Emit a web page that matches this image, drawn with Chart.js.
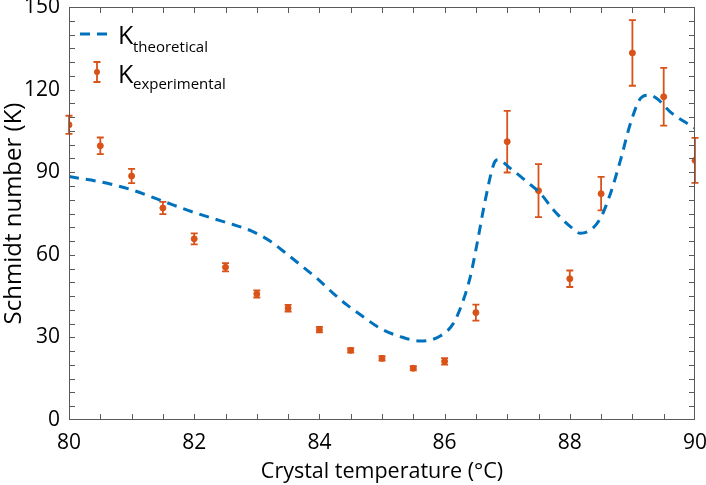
<!DOCTYPE html>
<html>
<head>
<meta charset="utf-8">
<script src="https://cdn.jsdelivr.net/npm/chart.js@4.4.0/dist/chart.umd.min.js"></script>
<style>
  html, body { margin: 0; padding: 0; background: #fff; }
  #wrap { width: 706px; height: 485px; position: relative; }
</style>
</head>
<body>
<div id="wrap"><canvas id="myChart"></canvas></div>
<script>
// measured values
var expX = [80, 80.5, 81, 81.5, 82, 82.5, 83, 83.5, 84, 84.5, 85, 85.5, 86, 86.5, 87, 87.5, 88, 88.5, 89, 89.5, 90];
var expY = [107.2, 99.6, 88.6, 77.0, 65.8, 55.5, 45.8, 40.6, 32.8, 25.3, 22.4, 18.8, 21.3, 39.0, 101.1, 83.3, 51.3, 82.2, 133.3, 117.4, 94.3];
var expErr = [3.3, 3.0, 2.6, 2.2, 2.0, 1.5, 1.3, 1.2, 1.0, 0.8, 0.8, 0.8, 1.2, 2.9, 11.2, 9.6, 3.0, 6.1, 11.9, 10.5, 8.2];

var theoX = [80, 80.5, 81, 81.5, 81.88, 82.3, 82.62, 82.92, 83.21, 83.48, 83.72, 83.96, 84.22, 84.44, 84.7, 84.97,
             85.29, 85.61, 85.93, 86.14, 86.3, 86.41, 86.52, 86.65, 86.79, 86.85, 87.05, 87.31, 87.53, 87.74, 88.01,
             88.17, 88.33, 88.49, 88.65, 88.81, 88.97, 89.13, 89.26, 89.39, 89.6, 89.92, 90];
var theoY = [88.4, 86.5, 83.6, 79.5, 76.3, 73.2, 71.0, 68.6, 65.0, 60.3, 55.9, 51.5, 46.0, 41.8, 37.5, 33.3,
             30.3, 28.7, 30.5, 35.1, 43.6, 52.0, 64.2, 79.9, 93.2, 94.5, 91.4, 86.6, 82.3, 76.3, 70.2,
             67.8, 69.0, 73.3, 82.3, 94.4, 107.8, 116.8, 118.0, 116.8, 112.0, 107.1, 106.0];

var xTicks = [80, 82, 84, 86, 88, 90];
var yTicks = [0, 30, 60, 90, 120, 150];

var BLUE = "#0072BD", ORANGE = "#D95319", AXIS = "#5a5a5a";
var FONT = "'Open Sans', sans-serif";

var theoPts = theoX.map(function(x, i) { return {x: x, y: theoY[i]}; });
var expPts = expX.map(function(x, i) { return {x: x, y: expY[i]}; });

// frame + inward ticks (major and minor), like the matlab box
const boxPlugin = {
  id: "boxTicks",
  afterDraw: (chart) => {
    let ctx = chart.ctx, a = chart.chartArea;
    let xs = chart.scales.x, ys = chart.scales.y;
    ctx.save();
    ctx.strokeStyle = AXIS;
    ctx.lineWidth = 1;
    ctx.strokeRect(a.left + 0.5, a.top + 0.5, a.right - a.left - 1, a.bottom - a.top - 1);
    ctx.beginPath();
    for (let v = 80.5; v < 90; v += 0.5) {
      let px = Math.round(xs.getPixelForValue(v)) + 0.5;
      ctx.moveTo(px, a.bottom); ctx.lineTo(px, a.bottom - 6);
      ctx.moveTo(px, a.top); ctx.lineTo(px, a.top + 6);
    }
    for (let v = 5; v < 150; v += 5) {
      let py = Math.round(ys.getPixelForValue(v)) + 0.5;
      ctx.moveTo(a.left, py); ctx.lineTo(a.left + 6, py);
      ctx.moveTo(a.right, py); ctx.lineTo(a.right - 6, py);
    }
    ctx.stroke();
    ctx.restore();
  }
};

// error bars under the points
const errPlugin = {
  id: "errBars",
  beforeDatasetsDraw: (chart) => {
    let ctx = chart.ctx, xs = chart.scales.x, ys = chart.scales.y;
    ctx.save();
    ctx.strokeStyle = ORANGE;
    ctx.lineWidth = 1.8;
    ctx.beginPath();
    for (let i = 0; i < expX.length; i++) {
      let px = xs.getPixelForValue(expX[i]);
      let top = ys.getPixelForValue(expY[i] + expErr[i]);
      let bot = ys.getPixelForValue(expY[i] - expErr[i]);
      ctx.moveTo(px, top); ctx.lineTo(px, bot);
      ctx.moveTo(px - 3.5, top); ctx.lineTo(px + 3.5, top);
      ctx.moveTo(px - 3.5, bot); ctx.lineTo(px + 3.5, bot);
    }
    ctx.stroke();
    ctx.restore();
  }
};

// legend with subscripts
const legendPlugin = {
  id: "subLegend",
  afterDraw: (chart) => {
    let ctx = chart.ctx, a = chart.chartArea;
    let lx = a.left + 11, ly = a.top + 27;
    ctx.save();
    ctx.strokeStyle = BLUE;
    ctx.lineWidth = 3;
    ctx.setLineDash([10, 7]);
    ctx.beginPath();
    ctx.moveTo(lx, ly); ctx.lineTo(lx + 32, ly);
    ctx.stroke();
    ctx.setLineDash([]);

    let mx = lx + 17, my = ly + 38;
    ctx.strokeStyle = ORANGE;
    ctx.lineWidth = 1.8;
    ctx.beginPath();
    ctx.moveTo(mx, my - 10); ctx.lineTo(mx, my + 10);
    ctx.moveTo(mx - 3.5, my - 10); ctx.lineTo(mx + 3.5, my - 10);
    ctx.moveTo(mx - 3.5, my + 10); ctx.lineTo(mx + 3.5, my + 10);
    ctx.stroke();
    ctx.fillStyle = ORANGE;
    ctx.beginPath();
    ctx.arc(mx, my, 3, 0, Math.PI * 2);
    ctx.fill();

    ctx.fillStyle = "#000";
    ctx.textBaseline = "alphabetic";
    ctx.textAlign = "left";
    ctx.font = "25px " + FONT;
    ctx.fillText("K", lx + 38, ly + 10);
    ctx.fillText("K", lx + 38, my + 11);
    ctx.font = "15px " + FONT;
    ctx.fillText("theoretical", lx + 53, ly + 18);
    ctx.fillText("experimental", lx + 53, my + 17);
    ctx.restore();
  }
};

var chart = new Chart(document.getElementById("myChart"), {
  type: "scatter",
  data: {
    datasets: [{
      type: "line",
      label: "theoretical",
      data: theoPts,
      borderColor: BLUE,
      borderWidth: 3,
      borderDash: [10, 7],
      pointRadius: 0,
      fill: false,
      cubicInterpolationMode: "monotone"
    }, {
      label: "experimental",
      data: expPts,
      backgroundColor: ORANGE,
      borderColor: ORANGE,
      pointRadius: 3,
      pointHoverRadius: 3
    }]
  },
  options: {
    responsive: true,
    maintainAspectRatio: false,
    animation: false,
    layout: { padding: { top: 7, right: 11, left: 0, bottom: 0 } },
    plugins: { legend: { display: false }, tooltip: { enabled: false } },
    scales: {
      x: {
        type: "linear", min: 80, max: 90,
        afterBuildTicks: (s) => { s.ticks = xTicks.map(v => ({value: v})); },
        afterFit: (s) => { s.height = 65; s.paddingLeft = 0; s.paddingRight = 0; },
        grid: { display: false, drawTicks: false },
        border: { display: false },
        ticks: { font: { family: FONT, size: 21 }, color: "#000", padding: 10, maxRotation: 0 },
        title: { display: true, text: "Crystal temperature (°C)", color: "#000",
                 font: { family: FONT, size: 21.5 }, padding: { top: 0, bottom: 0 } }
      },
      y: {
        type: "linear", min: 0, max: 150,
        afterBuildTicks: (s) => { s.ticks = yTicks.map(v => ({value: v})); },
        afterFit: (s) => { s.width = 69; s.paddingTop = 0; s.paddingBottom = 0; },
        grid: { display: false, drawTicks: false },
        border: { display: false },
        ticks: { font: { family: FONT, size: 21 }, color: "#000", padding: 9 },
        title: { display: true, text: "Schmidt number (K)", color: "#000",
                 font: { family: FONT, size: 24 }, padding: { top: 0, bottom: 0 } }
      }
    }
  },
  plugins: [errPlugin, boxPlugin, legendPlugin]
});
</script>
</body>
</html>
